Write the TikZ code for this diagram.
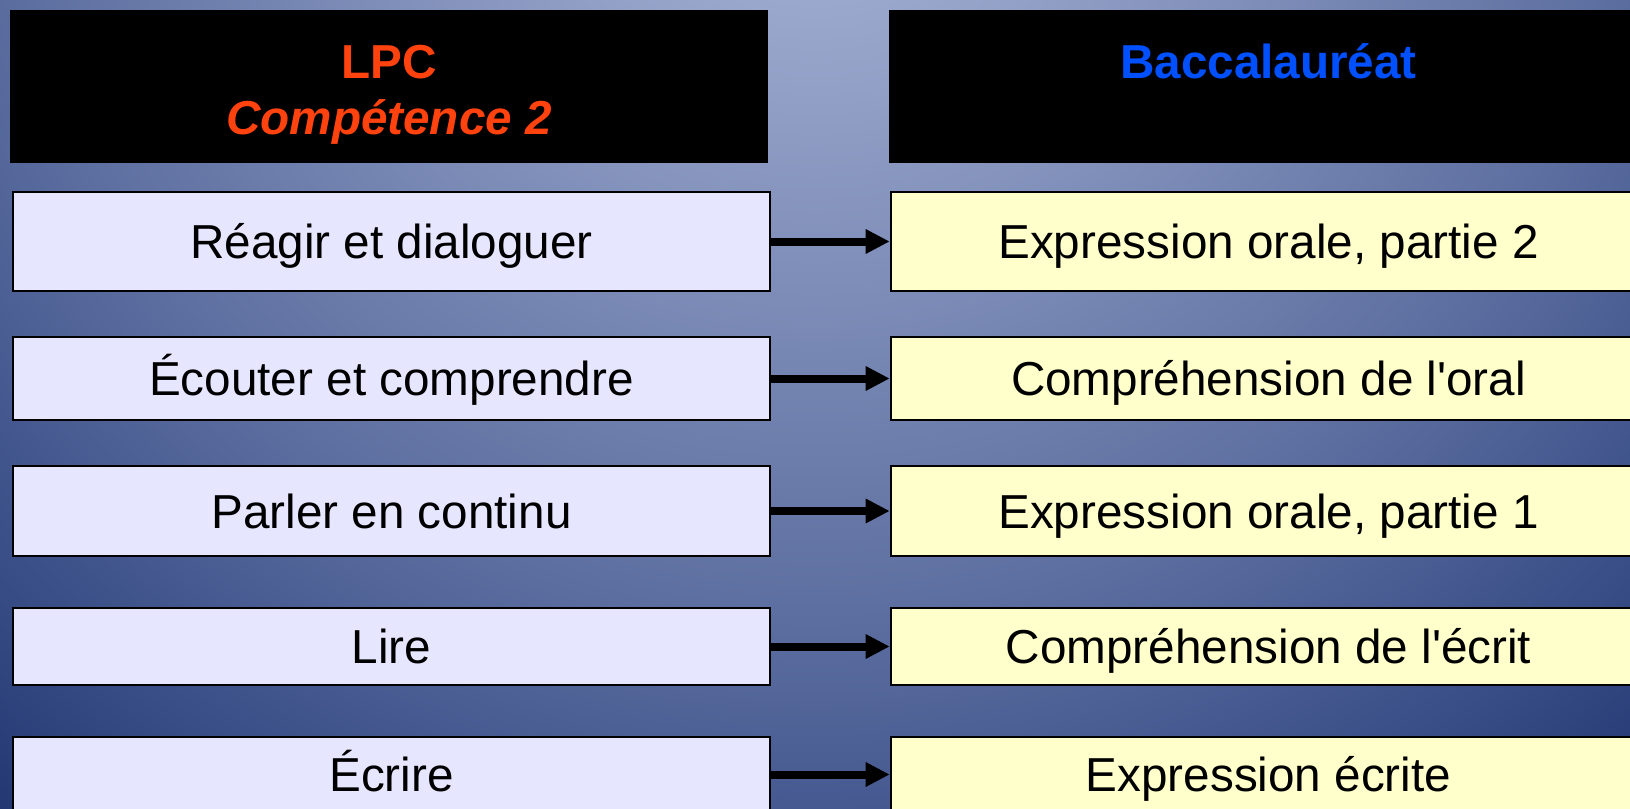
\documentclass[tikz,border=0pt]{standalone}
\usepackage{fontspec}
\setmainfont{Liberation Sans}
\usetikzlibrary{arrows.meta,positioning}

\definecolor{lpcred}{RGB}{255,66,14}
\definecolor{bacblue}{RGB}{0,80,255}
\definecolor{lpcfill}{RGB}{230,230,255}
\definecolor{bacfill}{RGB}{255,255,204}
\definecolor{bga}{RGB}{165,177,212}
\definecolor{bgb}{RGB}{155,168,205}
\definecolor{bgc}{RGB}{90,108,158}
\definecolor{bgd}{RGB}{70,90,145}
\definecolor{bge}{RGB}{35,55,115}
\pgfdeclareradialshading{slidebg}{\pgfpoint{0bp}{0bp}}{%
  color(0bp)=(bga); color(3.6bp)=(bgb); color(15bp)=(bgc); color(17.9bp)=(bgd);
  color(23.2bp)=(bge); color(50bp)=(bge)}

\begin{document}
\begin{tikzpicture}[x=0.01cm,y=-0.01cm,
    font=\fontsize{13.55}{15.8}\selectfont,
    head/.style={fill=black,inner sep=0pt,minimum width=7.58cm,minimum height=1.53cm,
      align=center,text height=0.34cm,text depth=0.50cm,font=\fontsize{13.55}{15.8}\selectfont\bfseries},
    lpc/.style={draw,fill=lpcfill,line width=0.6pt,inner sep=0pt,minimum width=7.57cm,
      text height=0.34cm,text depth=0cm},
    bac/.style={lpc,fill=bacfill,minimum width=7.55cm},
    link/.style={-{Triangle[length=0.24cm,width=0.23cm]},line width=0.08cm}]

      \useasboundingbox (0,0) rectangle (1630,809);
      \clip (0,0) rectangle (1630,809);
      \shade[shading=slidebg] (815,-200) circle (1400);

      \coordinate (h) at (389,86.5);
      \coordinate (k) at (1268.5,86.5);
      \coordinate (a) at (391.5,241.5);
      \coordinate (b) at (391.5,378.5);
      \coordinate (c) at (391.5,511);
      \coordinate (d) at (391.5,646.5);
      \coordinate (e) at (391.5,774.5);

      % headers
      \node[head,text=lpcred,text height=0.96cm,text depth=0cm] (hl) at (h) {LPC\\\textit{Compétence 2}};
      \node[head,text=bacblue] (hr) at (k) {Baccalauréat};

      % LPC
      \node[lpc,minimum height=0.99cm] (an) at (a) {Réagir et dialoguer};
      \node[lpc,minimum height=0.83cm] (bn) at (b) {Écouter et comprendre};
      \node[lpc,minimum height=0.90cm] (cn) at (c) {Parler en continu};
      \node[lpc,minimum height=0.77cm] (dn) at (d) {Lire};
      \node[lpc,minimum height=0.75cm] (en) at (e) {Écrire};

      % Bac
      \node[bac,minimum height=0.99cm] (ar) at (1268.5,241.5) {Expression orale, partie 2};
      \node[bac,minimum height=0.83cm] (br) at (1268.5,378.5) {Compréhension de l\textquotesingle oral};
      \node[bac,minimum height=0.90cm] (cr) at (1268.5,511) {Expression orale, partie 1};
      \node[bac,minimum height=0.77cm] (dr) at (1268.5,646.5) {Compréhension de l\textquotesingle écrit};
      \node[bac,minimum height=0.75cm] (er) at (1268.5,774.5) {Expression écrite};

      \draw[link] (an) -- (ar);
      \draw[link] (bn) -- (br);
      \draw[link] (cn) -- (cr);
      \draw[link] (dn) -- (dr);
      \draw[link] (en) -- (er);

\end{tikzpicture}
\end{document}
